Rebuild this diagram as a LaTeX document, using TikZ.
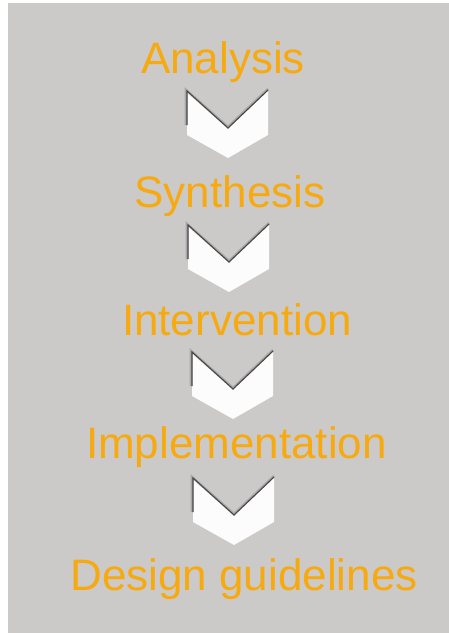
\documentclass[tikz,border=0pt]{standalone}
\usepackage{fontspec}
\setmainfont{Liberation Sans}
\definecolor{bggray}{RGB}{204,201,201}
\definecolor{steporange}{RGB}{247,170,16}
\definecolor{chevwhite}{RGB}{252,252,252}
\definecolor{chevshadow}{RGB}{70,70,70}
\tikzset{
  stagelabel/.style={anchor=base, inner sep=0pt, text=steporange, font=\fontsize{44}{48}\selectfont},
  chevfill/.style={fill=chevwhite, draw=none},
  chevedge/.style={draw=chevshadow, line width=1.1pt, line join=miter},
  chevhalo/.style={draw=chevshadow, line width=2.6pt, opacity=0.25},
  pics/chevron/.style={code={
    \path[chevfill] (0,0) -- (0,44) -- (41,67) -- (81,44) -- (81,-1) -- (41,37) -- cycle;
    \draw[chevhalo] (-1,34) -- (-1,-1) -- (41,36) -- (81,-2);
    \draw[chevedge] (0,34) -- (0,0) -- (41,37) -- (81,-1);
  }}
}
\begin{document}
\begin{tikzpicture}[x=1pt,y=-1pt]
\useasboundingbox (0,0) rectangle (449,633);
\fill[white] (0,0) rectangle (449,633);
\fill[bggray] (8,3) rectangle (449,633);
\node[stagelabel] (analysis) at (223,73) {Analysis};
\node[stagelabel] (synthesis) at (230,207) {Synthesis};
\node[stagelabel] (intervention) at (237,335) {Intervention};
\node[stagelabel] (implementation) at (236.5,458) {Implementation};
\node[stagelabel] (guidelines) at (244,590) {Design guidelines};
\pic at (187,91) {chevron};
\pic at (188,225) {chevron};
\pic at (192,352) {chevron};
\pic at (193,478) {chevron};
\end{tikzpicture}
\end{document}
